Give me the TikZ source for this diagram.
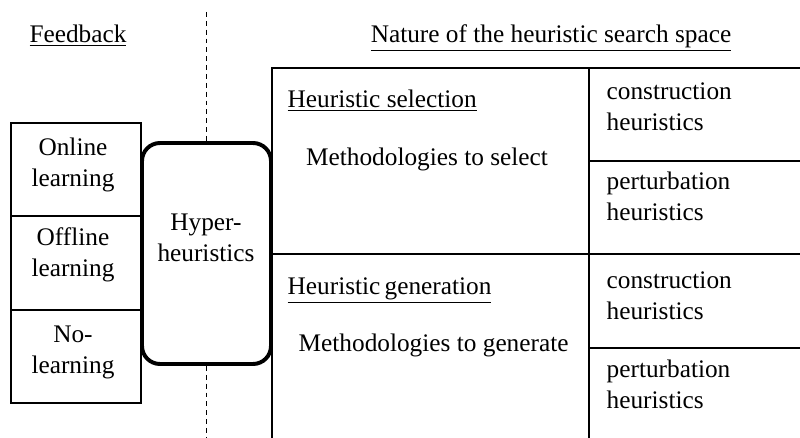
\documentclass[tikz,border=0pt]{standalone}
\usepackage{fontspec}
\setmainfont{Liberation Serif}

\begin{document}
\begin{tikzpicture}[
    line width=1pt,
    every node/.style={font=\fontsize{18}{22}\selectfont, inner sep=0pt},
    fbcell/.style={rectangle, draw, minimum width=3.25cm, minimum height=2.33cm},
    hyperbox/.style={rectangle, draw, line width=2.8pt, rounded corners=0.45cm, fill=white, minimum width=3.225cm, minimum height=5.525cm},
    celltext/.style={align=center},
    sidetext/.style={align=left, anchor=west},
    heading/.style={anchor=base},
    divider/.style={line width=1.2pt, dash pattern=on 3.5pt off 2.8pt}
]
\useasboundingbox (0,0) rectangle (20,-10.95);

% Headings
\node[heading] (fbhead) at (1.95,-1.075) {\underline{Feedback}};
\node[heading] (naturehead) at (13.775,-1.075) {\underline{Nature of the heuristic search space}};

% Search space table
\draw (6.8,-10.95) -- (6.8,-1.7) -- (20,-1.7);
\draw (6.8,-6.35) -- (20,-6.35);
\draw (14.725,-1.7) -- (14.725,-10.95);
\draw (14.725,-4.025) -- (20,-4.025);
\draw (14.725,-8.7) -- (20,-8.7);

\node[heading, anchor=base west] (selhead) at (7.175,-2.7) {\underline{Heuristic selection}};
\node[heading] (selmeth) at (10.675,-4.15) {Methodologies to select};
\node[heading, anchor=base west] (genhead) at (7.175,-7.375) {\underline{Heuristic\,generation}};
\node[heading] (genmeth) at (10.84,-8.8) {Methodologies to generate};

\node[sidetext] (selcons) at (15.15,-2.67) {construction\\heuristics};
\node[sidetext] (selpert) at (15.15,-4.92) {perturbation\\heuristics};
\node[sidetext] (gencons) at (15.15,-7.4) {construction\\heuristics};
\node[sidetext] (genpert) at (15.15,-9.62) {perturbation\\heuristics};

% Feedback boxes
\node[fbcell] (fbon) at (1.9,-4.2375) {};
\node[fbcell] (fboff) at (1.9,-6.575) {};
\node[fbcell] (fbno) at (1.9,-8.9125) {};
\node[celltext] (online) at (1.825,-4.115) {Online\\learning};
\node[celltext] (offline) at (1.825,-6.365) {Offline\\learning};
\node[celltext] (nolearn) at (1.825,-8.815) {No-\\learning};

% Hyper-heuristics box
\node[hyperbox] (hh) at (5.1625,-6.3375) {};
\node[celltext] (hhtext) at (5.15,-5.95) {Hyper-\\heuristics};

% Dashed divider
\draw[divider] (hh.north |- 0,-0.3) -- (hh.north);
\draw[divider] (hh.south) -- (hh.south |- 0,-10.95);

\end{tikzpicture}
\end{document}
